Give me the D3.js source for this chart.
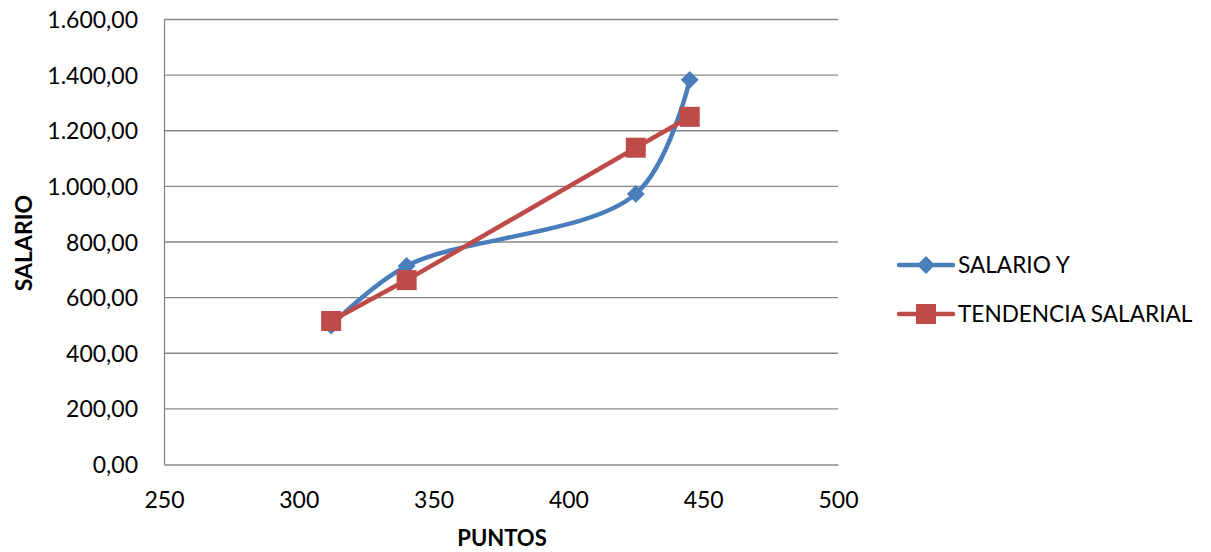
<!DOCTYPE html>
<html><head><meta charset="utf-8">
<script src="https://cdn.jsdelivr.net/npm/d3@7"></script>
<style>body{margin:0;background:#fff}svg{display:block}text{font-family:Lato,"Open Sans",sans-serif;fill:#000}</style>
</head><body><svg id="c" width="1211" height="552"></svg>
<script>
const puntos = [312, 340, 425, 445];
const salarioY = [500, 714, 973, 1383];
const tendencia = [516, 663, 1139, 1250];
const xTicks = [250, 300, 350, 400, 450, 500];
const yTicks = [0, 200, 400, 600, 800, 1000, 1200, 1400, 1600];
const seriesNames = ["SALARIO Y", "TENDENCIA SALARIAL"];
const colors = ["#4a7ebb", "#be4b48"];

const svg = d3.select("#c");
const L = 164, R = 838, T = 19.5, B = 464.5;
const x = d3.scaleLinear().domain([250, 500]).range([L, R]);
const y = d3.scaleLinear().domain([0, 1600]).range([B, T]);
const fmt = v => d3.format(",.2f")(v).replace(/,/g, "#").replace(".", ",").replace(/#/g, ".");

const g = svg.append("g");
g.selectAll("line.grid").data(yTicks.filter(d => d > 0)).join("line")
  .attr("x1", L).attr("x2", R).attr("y1", d => y(d)).attr("y2", d => y(d))
  .attr("stroke", "#878787").attr("stroke-width", 1.3);

const yAxis = d3.axisLeft(y).tickValues(yTicks).tickFormat(fmt).tickSize(0).tickPadding(26);
const ya = svg.append("g").attr("transform", `translate(${L},0)`).call(yAxis);
ya.select(".domain").attr("stroke", "#878787").attr("stroke-width", 1.3);
ya.selectAll("text").style("font-size", "23px").attr("dy", "0.35em");

const xAxis = d3.axisBottom(x).tickValues(xTicks).tickSize(0).tickPadding(0);
const xa = svg.append("g").attr("transform", `translate(0,${B})`).call(xAxis);
xa.select(".domain").attr("stroke", "#878787").attr("stroke-width", 1.3);
xa.selectAll("text").style("font-size", "23px").attr("y", 43.5).attr("dy", 0);

svg.append("text").attr("x", 502).attr("y", 546).attr("text-anchor", "middle")
  .style("font-size", "22px").style("font-weight", "bold").text("PUNTOS");
svg.append("text").attr("transform", "translate(32,243) rotate(-90)").attr("text-anchor", "middle")
  .style("font-size", "23px").style("font-weight", "bold").text("SALARIO");

const d1 = puntos.map((p, i) => [p, salarioY[i]]);
const d2 = puntos.map((p, i) => [p, tendencia[i]]);

const smooth = d3.line().x(d => x(d[0])).y(d => y(d[1])).curve(d3.curveCatmullRom.alpha(0.5));
const straight = d3.line().x(d => x(d[0])).y(d => y(d[1]));

svg.append("path").attr("d", smooth(d1)).attr("fill", "none").attr("stroke", colors[0]).attr("stroke-width", 4.5);
svg.append("path").attr("d", straight(d2)).attr("fill", "none").attr("stroke", colors[1]).attr("stroke-width", 4.5);

const diamond = d3.symbol().type(d3.symbolSquare).size(160);
svg.selectAll("path.dm").data(d1).join("path")
  .attr("d", diamond()).attr("transform", d => `translate(${x(d[0])},${y(d[1])}) rotate(45)`)
  .attr("fill", colors[0]);
svg.selectAll("rect.sq").data(d2).join("rect")
  .attr("x", d => x(d[0]) - 10).attr("y", d => y(d[1]) - 10).attr("width", 20).attr("height", 20)
  .attr("fill", colors[1]);

const leg = svg.append("g");
[265, 314].forEach((ly, i) => {
  leg.append("line").attr("x1", 899).attr("x2", 953).attr("y1", ly).attr("y2", ly)
    .attr("stroke", colors[i]).attr("stroke-width", 4.5).attr("stroke-linecap", "round");
  if (i === 0) {
    leg.append("path").attr("d", diamond()).attr("transform", `translate(926,${ly}) rotate(45)`).attr("fill", colors[0]);
  } else {
    leg.append("rect").attr("x", 916).attr("y", ly - 10).attr("width", 20).attr("height", 20).attr("fill", colors[1]);
  }
  leg.append("text").attr("x", 958).attr("y", ly).attr("dy", "0.35em").style("font-size", "22.6px").text(seriesNames[i]);
});
</script></body></html>
